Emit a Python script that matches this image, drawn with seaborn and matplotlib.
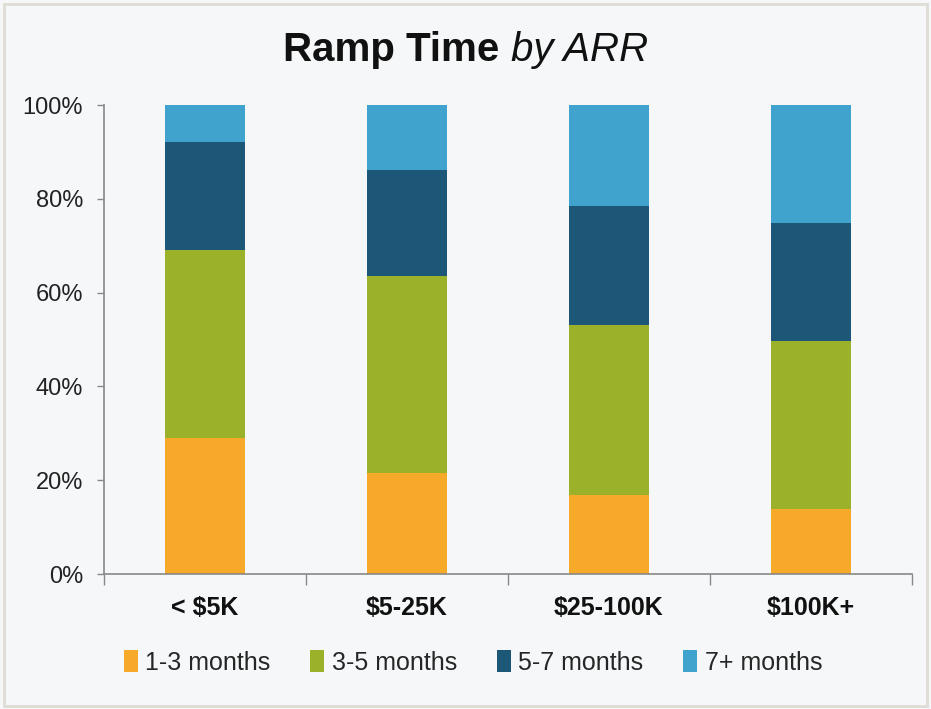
import numpy as np
import pandas as pd
import seaborn as sns
import matplotlib.pyplot as plt
from matplotlib.patches import Patch, Rectangle
from matplotlib.ticker import PercentFormatter

# Data (percent of deals in each ARR band)
arr_bands = ['< $5K', '$5-25K', '$25-100K', '$100K+']
ramp_groups = ['1-3 months', '3-5 months', '5-7 months', '7+ months']
m1_3 = [29.0, 21.5, 16.8, 13.9]
m3_5 = [40.1, 42.0, 36.3, 35.8]
m5_7 = [23.0, 22.6, 25.4, 25.1]
m7_plus = [7.9, 13.9, 21.5, 25.2]
colors = ['#F7AA2A', '#9BB12A', '#1C5778', '#3FA3CD']

sns.set_style('white')
plt.rcParams['font.family'] = ['Liberation Sans', 'DejaVu Sans']

bg = '#F5F7F8'
fig = plt.figure(figsize=(9.31, 7.09), dpi=100, facecolor=bg)
ax = fig.add_axes([0.1117, 0.1904, 0.8679, 0.6615])
ax.set_facecolor(bg)

df = pd.DataFrame({'band': arr_bands, '1-3 months': m1_3, '3-5 months': m3_5,
                   '5-7 months': m5_7, '7+ months': m7_plus})

# stacked bars
bottom = np.zeros(len(arr_bands))
for grp, c in zip(ramp_groups, colors):
    sns.barplot(data=df, x='band', y=grp, bottom=bottom, color=c, width=0.4,
                saturation=1, ax=ax, linewidth=0)
    bottom = bottom + df[grp].values

ax.set_xlim(-0.5, 3.5)
ax.set_ylim(0, 100)
ax.set_xlabel('')
ax.set_ylabel('')
ax.set_yticks(range(0, 101, 20))
ax.yaxis.set_major_formatter(PercentFormatter(decimals=0))
ax.tick_params(axis='y', labelsize=17, labelcolor='#222222', left=True, length=5,
               width=1, pad=10, color='#888888')
ax.tick_params(axis='x', labelsize=18, length=0, pad=16, labelcolor='#111111')
for lab in ax.get_xticklabels():
    lab.set_fontweight('bold')
ax.set_xticks(np.arange(-0.5, 4, 1), minor=True)
ax.tick_params(axis='x', which='minor', bottom=True, length=8, width=1, color='#888888')

for s in ['top', 'right']:
    ax.spines[s].set_visible(False)
for s in ['left', 'bottom']:
    ax.spines[s].set_color('#888888')
    ax.spines[s].set_linewidth(1.2)

# title: bold part + italic part, centred together
t1 = fig.text(0.5, 0.93, 'Ramp Time ', ha='left', va='center', fontsize=29,
              fontweight='bold', color='#111111')
t2 = fig.text(0.5, 0.93, 'by ARR', ha='left', va='center', fontsize=29,
              style='italic', color='#111111')
r = fig.canvas.get_renderer()
w1 = t1.get_window_extent(r).width / fig.bbox.width
w2 = t2.get_window_extent(r).width / fig.bbox.width
x0 = 0.5 - (w1 + w2) / 2
t1.set_x(x0)
t2.set_x(x0 + w1)

handles = [Patch(facecolor=c, edgecolor='none') for c in colors]
fig.legend(handles, ramp_groups, loc='center', bbox_to_anchor=(0.508, 0.066),
           ncol=4, frameon=False, fontsize=18, handlelength=0.55,
           handleheight=1.0, handletextpad=0.3, columnspacing=1.6)

fig.patches.append(Rectangle((0.004, 0.004), 0.992, 0.99, transform=fig.transFigure,
                             fill=False, edgecolor='#DDDDD5', linewidth=2))

fig.savefig('out.png', dpi=100, facecolor=bg)
